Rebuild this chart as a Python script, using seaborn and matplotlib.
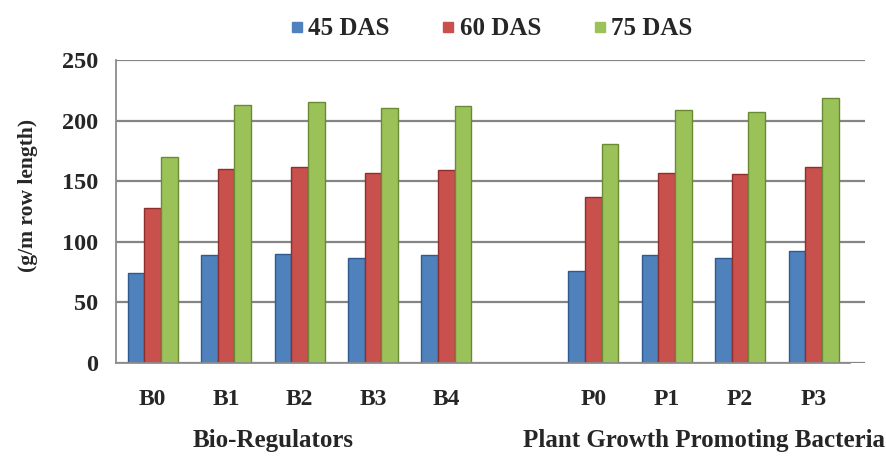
import matplotlib.pyplot as plt
import numpy as np
import pandas as pd
import seaborn as sns

# values (g/m row length)
treatments = ['B0', 'B1', 'B2', 'B3', 'B4', 'P0', 'P1', 'P2', 'P3']
das_45 = [74, 89, 90, 87, 89, 76, 89, 87, 92]
das_60 = [128, 160, 162, 157, 159, 137, 157, 156, 162]
das_75 = [170, 213, 215, 210, 212, 181, 209, 207, 219]
stages = ['45 DAS', '60 DAS', '75 DAS']
slot_order = ['B0', 'B1', 'B2', 'B3', 'B4', ' ', 'P0', 'P1', 'P2', 'P3']
yticks = [0, 50, 100, 150, 200, 250]

colours = ['#4f81bd', '#c8504d', '#9bc159']
edges = ['#2f5a8e', '#8e2f2d', '#6b8a36']

df = pd.DataFrame({
    'treatment': treatments * 3,
    'stage': np.repeat(stages, len(treatments)),
    'value': das_45 + das_60 + das_75,
})

sns.set_style('white')
plt.rcParams['font.family'] = ['Liberation Serif', 'DejaVu Serif']

fig = plt.figure(figsize=(8.87, 4.58), dpi=100)
# axes spans the 10 category slots plus a bit of the back wall on the right
ax = fig.add_axes([116 / 887, 95 / 458, 749 / 887, 303 / 458])

sns.barplot(data=df, x='treatment', y='value', hue='stage', order=slot_order,
            hue_order=stages, palette=colours, saturation=1, width=0.68,
            gap=0, linewidth=1, ax=ax, legend=True)

for cont, ec in zip(ax.containers, edges):
    for bar in cont:
        bar.set_edgecolor(ec)

ax.set_ylim(0, 250)
ax.set_xlim(-0.5, 9.7)
ax.set_yticks(yticks)
ax.yaxis.grid(True, color='#858585', linewidth=1.6)
ax.set_axisbelow(True)
for s in ['top', 'right']:
    ax.spines[s].set_visible(False)
for s in ['left', 'bottom']:
    ax.spines[s].set_color('#8c8c8c')
    ax.spines[s].set_linewidth(1.3)
ax.spines['bottom'].set_bounds(-0.5, 9.5)

# category labels at slot centres, tick marks on slot borders
ax.set_xticks(range(len(slot_order)))
ax.set_xticklabels(slot_order, fontsize=17, fontweight='bold')
ax.tick_params(axis='x', which='major', length=0, pad=19)
ax.set_xticks(np.arange(-0.5, 10, 1), minor=True)
ax.tick_params(axis='x', which='minor', length=7, color='#8c8c8c', width=1.3)
ax.tick_params(axis='y', length=6, color='#8c8c8c', width=1.3, pad=7)
for lab in ax.get_yticklabels():
    lab.set_fontsize(17.5)
    lab.set_fontweight('bold')

ax.set_xlabel('')
ax.set_ylabel('(g/m row length)', fontsize=15.5, fontweight='bold')
ax.yaxis.set_label_coords(-0.104, 0.554)

fig.text(273 / 887, 1 - 441 / 458, 'Bio-Regulators', ha='center', va='center',
         fontsize=18, fontweight='bold')
fig.text(704 / 887, 1 - 441 / 458, 'Plant Growth Promoting Bacteria',
         ha='center', va='center', fontsize=18, fontweight='bold')

ax.legend_.remove()
handles = [plt.Line2D([], [], marker='s', linestyle='', markersize=7.5,
                      markerfacecolor=c, markeredgecolor=c) for c in colours]
fig.legend(handles, stages, loc='center', bbox_to_anchor=(0.554, 0.937),
           ncol=3, frameon=False,
           prop={'family': 'Liberation Serif', 'size': 18, 'weight': 'bold'},
           handletextpad=0.2, columnspacing=2.1, handlelength=0.5)

fig.savefig('out.png', dpi=100)
